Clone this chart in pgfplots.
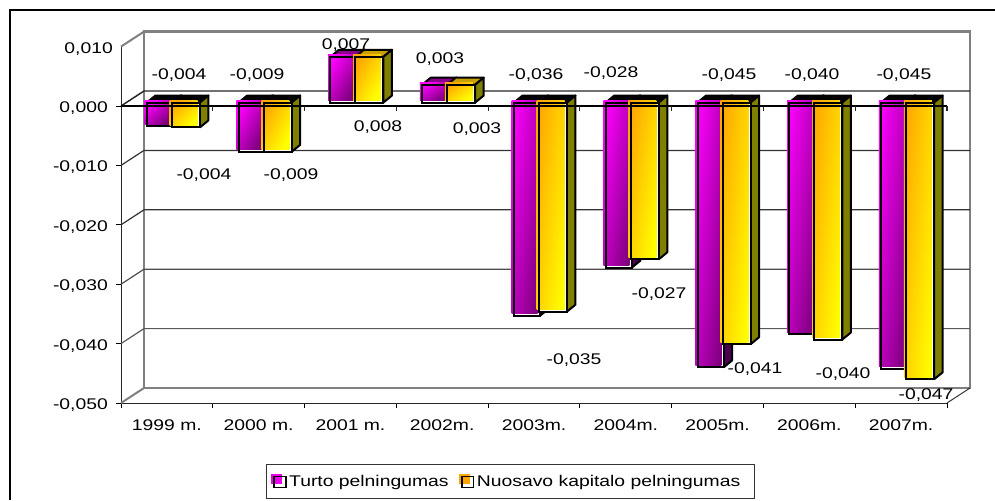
\documentclass[border=0pt]{standalone}
\usepackage{fontspec}
\setmainfont[FakeStretch=1.25]{Liberation Sans}
\usepackage{pgfplots}
\usepackage{pgfplotstable}
\pgfplotsset{compat=1.18}
\definecolor{mag}{HTML}{FF00FF}
\definecolor{magdark}{HTML}{800080}
\definecolor{magside}{HTML}{4B0050}
\definecolor{magtop}{HTML}{8B008B}
\definecolor{org}{HTML}{FFA500}
\definecolor{yel}{HTML}{FFFF00}
\definecolor{orgside}{HTML}{808000}
\definecolor{orgtop}{HTML}{C8A000}
\definecolor{wall}{HTML}{808080}
\newcommand{\lf}{\fontsize{11.6pt}{13pt}\selectfont}

% x = category centre, v = height of the bar
\pgfplotstableread{
x   v
0.5 -0.0040
1.5 -0.0083
2.5  0.0077
3.5  0.0030
4.5 -0.0359
5.5 -0.0278
6.5 -0.0446
7.5 -0.0390
8.5 -0.0448
}\turto
\pgfplotstableread{
x   v
0.5 -0.0042
1.5 -0.0083
2.5  0.0077
3.5  0.0030
4.5 -0.0352
5.5 -0.0264
6.5 -0.0407
7.5 -0.0399
8.5 -0.0466
}\kapitalas

% side and top faces of one series: table, left, right, side colour, top colour
\newcommand{\faces}[5]{%
  \pgfplotsinvokeforeach{0,...,8}{%
    \pgfplotstablegetelem{##1}{x}\of{#1}\let\cx\pgfplotsretval
    \pgfplotstablegetelem{##1}{v}\of{#1}\let\cv\pgfplotsretval
    \pgfmathsetmacro\xl{\cx+#2}\pgfmathsetmacro\xr{\cx+#3}
    \pgfmathsetmacro\xlb{\xl+0.0926}\pgfmathsetmacro\xrb{\xr+0.0926}
    \pgfmathsetmacro\yt{max(\cv,0)}\pgfmathsetmacro\yb{min(\cv,0)}
    \pgfmathsetmacro\ytb{\yt+0.00118}\pgfmathsetmacro\ybb{\yb+0.00118}
    \ifdim\cv pt<0pt \def\tc{black}\else\def\tc{#5}\fi
    \edef\temp{\noexpand\addplot[forget plot,draw=black,line width=1.5pt,line join=round,
        fill=\tc,xshift=4.125pt,yshift=2.625pt] coordinates
        {(\xl,\yt)(\xlb,\ytb)(\xrb,\ytb)(\xr,\yt)(\xl,\yt)};
      \noexpand\addplot[forget plot,draw=black,line width=1.5pt,line join=round,
        fill=#4,xshift=4.125pt,yshift=2.625pt] coordinates
        {(\xr,\yb)(\xrb,\ybb)(\xrb,\ytb)(\xr,\yt)(\xr,\yb)};}%
    \temp
  }%
}
% white ground, shifted shaded fill (one plot per bar, or the shading spans them all), black outline
% shading runs corner to corner, so its angle follows the height of the bar
\newcommand{\fronts}[5]{%
  \addplot[forget plot,ybar,bar width=#2,bar shift=#3,xshift=4.125pt,yshift=2.625pt,
    draw=none,fill=white] table[x=x,y=v] {#1};
  \pgfplotsinvokeforeach{0,...,8}{%
    \pgfplotstablegetelem{##1}{x}\of{#1}\let\cx\pgfplotsretval
    \pgfplotstablegetelem{##1}{v}\of{#1}\let\cv\pgfplotsretval
    \pgfmathsetmacro\sa{atan(abs(\cv)*5940/26)}
    \edef\temp{\noexpand\addplot[forget plot,ybar,bar width=#2,bar shift=#3,xshift=2.4pt,yshift=4.1pt,
      draw=none,left color=#4,right color=#5,shading angle=\sa] coordinates {(\cx,\cv)};}%
    \temp
  }%
  \addplot[forget plot,ybar,bar width=#2,bar shift=#3,xshift=4.125pt,yshift=2.625pt,
    draw=black,line width=1.5pt,fill=none] table[x=x,y=v] {#1};
}

\begin{document}
\begin{tikzpicture}
\useasboundingbox (0pt,0pt) rectangle (746.25pt,-375pt);
\draw[line width=1.9pt] (7.5pt,-375pt) -- (7.5pt,-7.5pt) -- (746.25pt,-7.5pt);
\begin{axis}[
  at={(90.75pt,-302.25pt)}, anchor=south west,
  scale only axis, width=619.5pt, height=267.3pt,
  xmin=0, xmax=9, ymin=-0.05, ymax=0.01,
  clip=false,
  axis x line*=bottom, axis y line*=left,
  axis line style={-, line width=0.75pt, black!85},
  tick style={black, line width=0.75pt},
  tick align=outside,
  xtick={0.5,1.5,...,8.5},
  xticklabels={1999 m.,2000 m.,2001 m.,2002m.,2003m.,2004m.,2005m.,2006m.,2007m.},
  minor xtick={0,1,...,9},
  major x tick style={draw=none},
  minor tick length=3.75pt, major tick length=3.75pt,
  xticklabel style={font=\lf, yshift=-5.5pt},
  ytick={-0.05,-0.04,-0.03,-0.02,-0.01,0},
  extra y ticks={0.01},
  extra y tick style={major tick length=0pt, tick style={draw=none}},
  yticklabel style={font=\lf, xshift=-2.6pt, yshift=-1.5pt,
    /pgf/number format/fixed, /pgf/number format/fixed zerofill,
    /pgf/number format/precision=3, /pgf/number format/use comma,
    /pgf/number format/assume math mode=true},
  scaled y ticks=false,
  legend columns=2,
  legend style={at={(0.4716,-0.2203)}, anchor=center, draw=black!80, line width=0.75pt,
    font=\lf, inner xsep=3.75pt, inner ysep=5.8pt,
    /tikz/every even column/.append style={column sep=6pt}},
]
% walls
\addplot[forget plot,draw=wall,line width=1.9pt,line join=miter] coordinates
  {(0.2506,-0.047475)(9.2506,-0.047475)(9.2506,0.012525)(0.2506,0.012525)(0.2506,-0.047475)};
\addplot[forget plot,draw=wall,line width=1.5pt] coordinates {(0,0.01)(0.2506,0.012525)};
\addplot[forget plot,draw=wall,line width=1.5pt] coordinates {(0,-0.05)(0.2506,-0.047475)};
\addplot[forget plot,draw=black!80,line width=0.75pt] coordinates {(9,-0.05)(9.2506,-0.047475)};
% grid on the back wall and side wall
\addplot[forget plot,draw=black!85,line width=1.1pt] coordinates {(0,0)(0.2506,0.002525)(9.2506,0.002525)};
\addplot[forget plot,draw=black!80,line width=0.9pt] coordinates {(0,-0.01)(0.2506,-0.007475)(9.2506,-0.007475)};
\addplot[forget plot,draw=black!80,line width=0.9pt] coordinates {(0,-0.02)(0.2506,-0.017475)(9.2506,-0.017475)};
\addplot[forget plot,draw=black!70,line width=0.9pt] coordinates {(0,-0.03)(0.2506,-0.027475)(9.2506,-0.027475)};
\addplot[forget plot,draw=black!65,line width=0.9pt] coordinates {(0,-0.04)(0.2506,-0.037475)(9.2506,-0.037475)};
% bars
\faces{\turto}{-0.2778}{0.00545}{magside}{magtop}
\fronts{\turto}{19.5pt}{-9.375pt}{mag}{magdark}
\faces{\kapitalas}{-0.00545}{0.2996}{orgside}{orgtop}
\fronts{\kapitalas}{21pt}{10.125pt}{org}{yel}
% zero line with its ticks, over the bars
\addplot[forget plot,draw=black,line width=1pt] coordinates {(0,0)(9,0)};
\pgfplotsinvokeforeach{1,...,9}{\draw[black!85,line width=0.9pt] (axis cs:#1,0) -- ++(0pt,-3.75pt);}
% data labels as they stand in the chart
\addplot[forget plot,only marks,mark=none,point meta=explicit symbolic,nodes near coords,
  nodes near coords style={anchor=center,font=\lf,inner sep=0pt,yshift=-1.5pt}] coordinates {
  (0.632,0.00556)[-0,004] (1.482,0.00556)[-0,009] (2.452,0.0106)[0,007] (3.476,0.00825)[0,003]
  (4.522,0.00556)[-0,036] (5.339,0.00589)[-0,028] (6.625,0.00556)[-0,045] (7.529,0.00556)[-0,040]
  (8.531,0.00556)[-0,045]
  (0.904,-0.01128)[-0,004] (1.852,-0.01128)[-0,009] (2.800,-0.0032)[0,008] (3.879,-0.00354)[0,003]
  (4.936,-0.04242)[-0,035] (5.862,-0.03131)[-0,027] (6.908,-0.04394)[-0,041] (7.867,-0.04478)[-0,040]
  (8.771,-0.04832)[-0,047]
};
\addlegendimage{legend image code/.code={
  \draw[black,line width=1.2pt,fill=white] (1.5pt,3.75pt) rectangle (10.3pt,-4.5pt);
  \fill[mag!85!magdark] (0pt,5.25pt) rectangle (7.3pt,-1.5pt);
  \draw[black,line width=1.2pt] (1.5pt,3.75pt) rectangle (10.3pt,-4.5pt);}}
\addlegendentry{Turto pelningumas}
\addlegendimage{legend image code/.code={
  \draw[black,line width=1.2pt,fill=white] (1.5pt,3.75pt) rectangle (10.3pt,-4.5pt);
  \fill[org] (0pt,5.25pt) rectangle (7.3pt,-1.5pt);
  \draw[black,line width=1.2pt] (1.5pt,3.75pt) rectangle (10.3pt,-4.5pt);}}
\addlegendentry{Nuosavo kapitalo pelningumas\rule{5pt}{0pt}}
\end{axis}
\end{tikzpicture}
\end{document}
